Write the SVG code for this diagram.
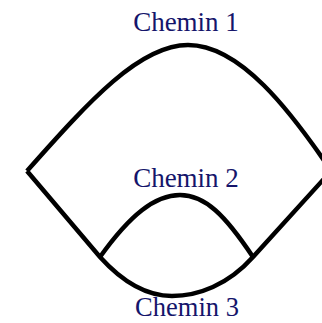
<svg xmlns="http://www.w3.org/2000/svg" width="322" height="323" viewBox="0 0 322 323">
<style>
.p{fill:none;stroke:#000;stroke-width:4.5;stroke-linejoin:miter;stroke-linecap:butt}
.t{font-family:"Liberation Serif","Times New Roman",serif;font-size:27px;fill:#15156b;text-anchor:middle}
</style>
<rect width="322" height="323" fill="#fff"/>
<g id="connectors">
<path id="chemin1" class="p" d="M27,171 C90,100 140,45 188,45 C240,45 290,110 332,172"/>
<path id="chemin3" class="p" d="M27,171 L100,257 C128,288 152,296 172,296 C198,296 228,285 253,257 L332,170"/>
<path id="chemin2" class="p" d="M100,257 C130,215 155,195 180,195 C205,195 225,215 253,257"/>
</g>
<g id="label1"><text class="t" x="186" y="31">Chemin 1</text></g>
<g id="label2"><text class="t" x="186" y="187">Chemin 2</text></g>
<g id="label3"><text class="t" x="187" y="316" style="font-size:26.5px">Chemin 3</text></g>
</svg>
